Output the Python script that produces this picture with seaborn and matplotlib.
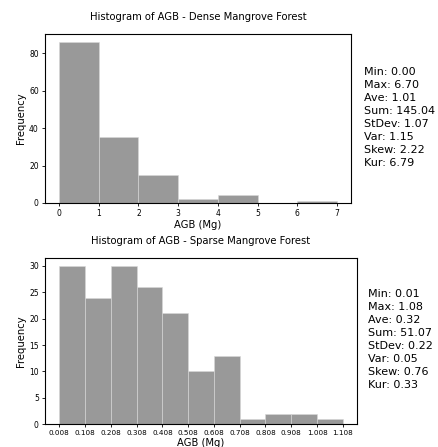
import numpy as np
import pandas as pd
import matplotlib
matplotlib.use("Agg")
import matplotlib.pyplot as plt
import seaborn as sns

# Dense mangrove forest histogram
dense_edges = [0, 1, 2, 3, 4, 5, 6, 7]
dense_counts = [86, 35, 15, 2, 4, 0, 1]
dense_stats = ["Min: 0.00", "Max: 6.70", "Ave: 1.01", "Sum: 145.04",
               "StDev: 1.07", "Var: 1.15", "Skew: 2.22", "Kur: 6.79"]

# Sparse mangrove forest histogram
sparse_edges = [0.008, 0.108, 0.208, 0.308, 0.408, 0.508, 0.608, 0.708,
                0.808, 0.908, 1.008, 1.108]
sparse_counts = [30, 24, 30, 26, 21, 10, 13, 1, 2, 2, 1]
sparse_ticklabels = ["0.008", "0.108", "0.208", "0.308", "0.408", "0.508",
                     "0.608", "0.708", "0.808", "0.908", "1.008", "1.108"]
sparse_stats = ["Min: 0.01", "Max: 1.08", "Ave: 0.32", "Sum: 51.07",
                "StDev: 0.22", "Var: 0.05", "Skew: 0.76", "Kur: 0.33"]

plt.rcParams['font.family'] = ['DejaVu Sans']
fig = plt.figure(figsize=(4.38, 4.47), dpi=100)

ax1 = fig.add_axes([0.103, 0.546, 0.698, 0.378])
ax2 = fig.add_axes([0.103, 0.051, 0.712, 0.372])

bar_color = "#999999"
edge_color = "#d8d8d8"

def draw(ax, edges, counts, title, stats, text_xy):
    lefts = np.array(edges[:-1], dtype=float)
    mids = lefts + np.diff(edges) / 2
    df = pd.DataFrame({"x": mids, "w": counts})
    sns.histplot(data=df, x="x", weights="w", bins=edges, ax=ax,
                 color=bar_color, edgecolor=edge_color, linewidth=0.4,
                 alpha=1.0, stat="count")
    ax.set_title(title, fontsize=7.2, pad=10)
    ax.set_xlabel("AGB (Mg)", fontsize=7.2, labelpad=1)
    ax.set_ylabel("Frequency", fontsize=7.2, labelpad=2)
    ax.tick_params(labelsize=5.5, length=2.5, width=0.6, pad=2)
    for s in ax.spines.values():
        s.set_linewidth(0.8)
    fig.text(text_xy[0], text_xy[1], "\n".join(stats), fontsize=8,
             va="center", ha="left", linespacing=1.38)

draw(ax1, dense_edges, dense_counts, "Histogram of AGB - Dense Mangrove Forest",
     dense_stats, (0.830, 0.737))
ax1.set_xticks(dense_edges)
ax1.set_yticks([0, 20, 40, 60, 80])
ax1.margins(x=0.05)

draw(ax2, sparse_edges, sparse_counts, "Histogram of AGB - Sparse Mangrove Forest",
     sparse_stats, (0.840, 0.240))
ax2.set_xticks(sparse_edges)
ax2.set_xticklabels(sparse_ticklabels)
ax2.set_yticks([0, 5, 10, 15, 20, 25, 30])
ax2.tick_params(axis="x", labelsize=5.2)

fig.savefig("out.png", dpi=100)
